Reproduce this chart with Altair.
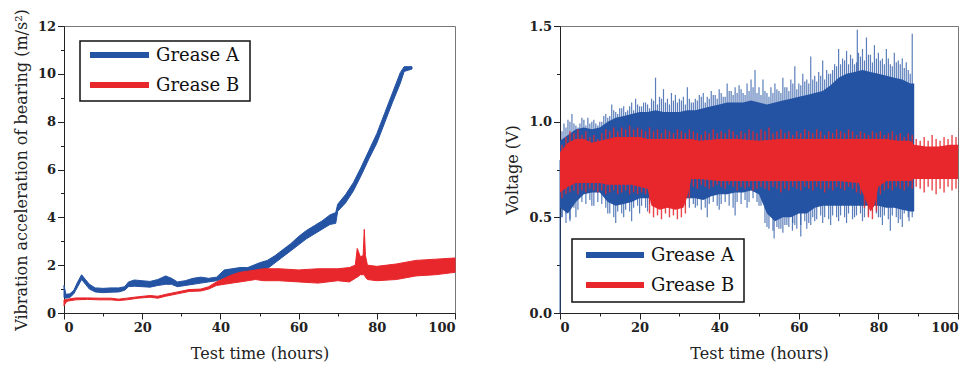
import altair as alt
import pandas as pd

BLUE = "#2453A3"
RED = "#E8272C"
FONT = "DejaVu Serif"
SERIES = ["Grease A", "Grease B"]

# ---------------- Left panel: vibration acceleration (band lo/hi) ----------------
a_t = [0, 0.5, 1.5, 2.5, 3.5, 4.5, 5.5, 6.5, 8, 10, 12, 14, 15.5, 16.5, 18, 20, 22, 24, 26, 27.5,
       29, 31, 33, 35, 37, 39, 41, 43, 45, 47, 50, 52, 54, 56, 58, 60, 62, 64, 66, 68,
       69.5, 70, 72, 74, 76, 78, 80, 82, 84, 86, 87, 89]
a_lo = [0.65, 0.62, 0.65, 0.8, 1.1, 1.4, 1.2, 1.0, 0.88, 0.85, 0.87, 0.88, 0.95, 1.1, 1.12, 1.1, 1.08, 1.15, 1.2, 1.2,
        1.1, 1.15, 1.2, 1.25, 1.3, 1.35, 1.45, 1.5, 1.55, 1.6, 1.75, 1.85, 2.1, 2.35, 2.6, 2.85, 3.1, 3.3, 3.5, 3.7,
        3.75, 4.25, 4.6, 5.1, 5.75, 6.45, 7.1, 7.95, 8.8, 9.6, 10.1, 10.2]
a_hi = [1.15, 0.78, 0.8, 0.95, 1.3, 1.6, 1.4, 1.2, 1.05, 1.03, 1.05, 1.05, 1.1, 1.3, 1.38, 1.35, 1.32, 1.4, 1.55, 1.45,
        1.3, 1.35, 1.45, 1.5, 1.45, 1.5, 1.8, 1.85, 1.9, 1.9, 2.1, 2.2, 2.4, 2.65, 2.9, 3.2, 3.45, 3.65, 3.85, 4.1,
        4.2, 4.55, 4.95, 5.45, 6.1, 6.8, 7.5, 8.35, 9.2, 10.05, 10.3, 10.3]

b_t = [0, 0.5, 1, 3, 6, 9, 12, 14, 16, 19, 22, 24, 26, 29, 32, 35, 37, 39, 41, 43,
       45, 47, 49, 51, 55, 60, 65, 70, 73, 74.5, 75, 75.8, 76.5, 76.8, 77.1, 77.6, 80, 85, 90, 95, 100]
b_lo = [0.3, 0.45, 0.5, 0.55, 0.57, 0.55, 0.55, 0.52, 0.55, 0.62, 0.66, 0.62, 0.7, 0.8, 0.9, 0.92, 1.0, 1.15, 1.2, 1.25,
        1.3, 1.35, 1.4, 1.35, 1.35, 1.3, 1.25, 1.35, 1.3, 1.45, 1.5, 1.6, 1.6, 1.6, 1.5, 1.4, 1.35, 1.4, 1.55, 1.6, 1.7]
b_hi = [0.55, 0.55, 0.58, 0.63, 0.63, 0.62, 0.62, 0.58, 0.62, 0.68, 0.73, 0.7, 0.78, 0.88, 0.98, 1.0, 1.1, 1.3, 1.45, 1.6,
        1.7, 1.75, 1.8, 1.85, 1.85, 1.8, 1.85, 1.85, 1.9, 2.0, 2.7, 2.35, 2.4, 3.5, 2.4, 2.0, 1.95, 2.05, 2.2, 2.25, 2.3]

# ---------------- Right panel: voltage (dense core band + spikes) ----------------
va_t = [0, 2, 4, 6, 8, 10, 12, 14, 16, 18, 20, 22, 24, 26, 28, 30, 32, 34, 36, 38,
        40, 42, 44, 46, 48, 50, 52, 54, 56, 58, 60, 62, 64, 66, 68, 70, 72, 74, 76, 78,
        80, 82, 84, 86, 88, 89]
va_lo = [0.55, 0.52, 0.58, 0.62, 0.63, 0.63, 0.58, 0.56, 0.57, 0.58, 0.60, 0.60, 0.60, 0.60, 0.60, 0.60, 0.60, 0.60, 0.59, 0.61,
         0.62, 0.62, 0.63, 0.63, 0.64, 0.62, 0.52, 0.48, 0.50, 0.50, 0.52, 0.52, 0.55, 0.56, 0.56, 0.56, 0.56, 0.56, 0.56, 0.56,
         0.56, 0.55, 0.55, 0.54, 0.53, 0.53]
va_hi = [0.90, 0.93, 0.96, 0.97, 0.96, 0.97, 1.00, 1.02, 1.03, 1.04, 1.05, 1.05, 1.06, 1.05, 1.05, 1.05, 1.06, 1.06, 1.07, 1.08,
         1.09, 1.10, 1.10, 1.10, 1.11, 1.10, 1.09, 1.10, 1.11, 1.12, 1.13, 1.14, 1.15, 1.16, 1.19, 1.23, 1.25, 1.26, 1.27, 1.26,
         1.25, 1.24, 1.23, 1.22, 1.20, 1.20]

vb_t = [0, 2, 4, 6, 8, 10, 12, 14, 16, 18, 20, 22, 23, 25, 27, 29, 31, 32, 33, 35,
        40, 45, 50, 55, 60, 65, 70, 75, 77, 78, 79, 80, 82, 85, 88, 89, 92, 95, 98, 100]
vb_lo = [0.63, 0.66, 0.68, 0.68, 0.68, 0.68, 0.67, 0.67, 0.67, 0.67, 0.66, 0.65, 0.56, 0.54, 0.55, 0.54, 0.55, 0.61, 0.70, 0.70,
         0.69, 0.69, 0.69, 0.69, 0.69, 0.69, 0.69, 0.68, 0.58, 0.53, 0.56, 0.66, 0.69, 0.69, 0.69, 0.70, 0.70, 0.70, 0.70, 0.70]
vb_hi = [0.84, 0.89, 0.91, 0.91, 0.89, 0.90, 0.91, 0.92, 0.92, 0.92, 0.92, 0.91, 0.91, 0.91, 0.91, 0.91, 0.91, 0.91, 0.91, 0.90,
         0.91, 0.91, 0.90, 0.91, 0.91, 0.91, 0.91, 0.91, 0.91, 0.91, 0.91, 0.91, 0.91, 0.90, 0.90, 0.88, 0.87, 0.87, 0.88, 0.88]

# isolated spikes of Grease A (hour, peak voltage)
sa_t = [1, 2, 3, 4, 5, 6, 7, 8, 9, 10, 11, 12, 13, 14, 15, 16, 17, 18, 19, 20,
        21, 22, 23, 24, 25, 26, 27, 28, 29, 30, 31, 32, 33, 34, 35, 36, 37, 38, 39, 40,
        41, 42, 43, 44, 45, 46, 47, 48, 49, 50, 51, 52, 53, 54, 55, 56, 57, 58, 59, 60,
        61, 62, 63, 64, 65, 66, 67, 68, 69, 70, 71, 72, 73, 74, 74.7, 75, 76, 77, 78, 79,
        80, 81, 82, 83, 84, 85, 86, 87, 88, 88.5,
        0, 0.5, 1.5, 2.5, 4, 8, 12, 14, 16, 18, 20, 22, 34, 37, 40, 44, 47, 50, 52, 53.8,
        55, 56, 57, 58.4, 59, 60.5, 62, 63, 64, 66, 68, 70, 72, 74, 76, 80, 81, 83, 85, 86,
        87.7, 88.5]
sa_v = [0.99, 1.01, 1.04, 0.98, 0.99, 1.01, 1.02, 1.00, 0.99, 1.00, 1.03, 1.02, 1.09, 1.05, 1.07, 1.08, 1.06, 1.10, 1.12, 1.08,
        1.10, 1.09, 1.12, 1.23, 1.13, 1.17, 1.12, 1.15, 1.14, 1.12, 1.13, 1.18, 1.10, 1.12, 1.14, 1.15, 1.13, 1.16, 1.14, 1.17,
        1.13, 1.20, 1.16, 1.18, 1.19, 1.15, 1.20, 1.22, 1.27, 1.18, 1.22, 1.15, 1.18, 1.20, 1.16, 1.23, 1.18, 1.22, 1.29, 1.20,
        1.25, 1.22, 1.34, 1.24, 1.26, 1.32, 1.27, 1.25, 1.30, 1.38, 1.33, 1.37, 1.35, 1.30, 1.48, 1.36, 1.38, 1.44, 1.35, 1.40,
        1.36, 1.33, 1.38, 1.30, 1.36, 1.32, 1.33, 1.31, 1.25, 1.46,
        0.00, 0.50, 0.47, 0.49, 0.50, 0.56, 0.52, 0.47, 0.50, 0.48, 0.52, 0.53, 0.55, 0.50, 0.54, 0.51, 0.55, 0.56, 0.45, 0.39,
        0.44, 0.42, 0.46, 0.43, 0.46, 0.40, 0.44, 0.46, 0.48, 0.47, 0.46, 0.48, 0.47, 0.50, 0.48, 0.50, 0.46, 0.43, 0.47, 0.45,
        0.48, 0.50]

# dense half-hour fringe of Grease A (upper and lower edge of the noise), hours 0.5 .. 87.5
fa_t = [h + 0.5 for h in range(88)]
fa_up = [0.95, 0.97, 1.00, 0.99, 0.97, 1.02, 0.98, 0.99, 1.01, 0.98,
         1.00, 1.04, 1.03, 1.06, 1.04, 1.07, 1.05, 1.08, 1.06, 1.09,
         1.08, 1.10, 1.07, 1.11, 1.09, 1.12, 1.10, 1.09, 1.11, 1.10,
         1.11, 1.09, 1.12, 1.10, 1.11, 1.13, 1.10, 1.12, 1.14, 1.12,
         1.15, 1.13, 1.16, 1.14, 1.15, 1.17, 1.14, 1.16, 1.18, 1.15,
         1.14, 1.16, 1.13, 1.15, 1.17, 1.15, 1.18, 1.16, 1.20, 1.17,
         1.19, 1.21, 1.20, 1.22, 1.21, 1.24, 1.22, 1.25, 1.27, 1.29,
         1.30, 1.32, 1.30, 1.33, 1.31, 1.34, 1.32, 1.35, 1.31, 1.33,
         1.32, 1.30, 1.33, 1.29, 1.31, 1.30, 1.28, 1.27]
fa_dn = [0.50, 0.52, 0.48, 0.55, 0.54, 0.58, 0.57, 0.59, 0.56, 0.58,
         0.57, 0.55, 0.52, 0.50, 0.53, 0.52, 0.54, 0.53, 0.55, 0.56,
         0.56, 0.55, 0.57, 0.56, 0.58, 0.57, 0.56, 0.58, 0.57, 0.56,
         0.57, 0.56, 0.55, 0.57, 0.56, 0.54, 0.55, 0.57, 0.58, 0.56,
         0.57, 0.58, 0.56, 0.55, 0.58, 0.57, 0.59, 0.58, 0.60, 0.58,
         0.56, 0.47, 0.44, 0.43, 0.45, 0.44, 0.46, 0.45, 0.47, 0.44,
         0.46, 0.48, 0.47, 0.50, 0.49, 0.51, 0.50, 0.49, 0.51, 0.50,
         0.51, 0.50, 0.52, 0.49, 0.51, 0.52, 0.50, 0.51, 0.53, 0.52,
         0.50, 0.51, 0.49, 0.51, 0.50, 0.49, 0.52, 0.50]

# dense hourly fringe of Grease B, hours 0.5 .. 99.5
fb_t = [h + 0.5 for h in range(100)]
fb_up = [0.88, 0.92, 0.95, 0.94, 0.96, 0.93, 0.95, 0.92, 0.93, 0.91,
         0.94, 0.96, 0.95, 0.97, 0.95, 0.97, 0.96, 0.98, 0.96, 0.97,
         0.96, 0.95, 0.97, 0.95, 0.96, 0.94, 0.96, 0.95, 0.94, 0.96,
         0.95, 0.94, 0.96, 0.95, 0.94, 0.93, 0.95, 0.94, 0.96, 0.94,
         0.95, 0.94, 0.96, 0.95, 0.93, 0.95, 0.94, 0.96, 0.95, 0.94,
         0.96, 0.95, 0.97, 0.94, 0.95, 0.96, 0.94, 0.95, 0.93, 0.95,
         0.94, 0.96, 0.95, 0.94, 0.96, 0.95, 0.93, 0.95, 0.94, 0.96,
         0.95, 0.94, 0.96, 0.95, 0.93, 0.95, 0.94, 0.93, 0.95, 0.94,
         0.95, 0.93, 0.94, 0.95, 0.93, 0.94, 0.92, 0.94, 0.93, 0.91,
         0.90, 0.92, 0.90, 0.93, 0.91, 0.90, 0.92, 0.91, 0.93, 0.92]
fb_dn = [0.60, 0.62, 0.63, 0.64, 0.62, 0.64, 0.63, 0.65, 0.64, 0.63,
         0.64, 0.62, 0.63, 0.64, 0.62, 0.63, 0.64, 0.62, 0.63, 0.62,
         0.63, 0.62, 0.52, 0.50, 0.51, 0.49, 0.52, 0.50, 0.51, 0.49,
         0.50, 0.52, 0.60, 0.66, 0.65, 0.67, 0.66, 0.65, 0.66, 0.67,
         0.66, 0.65, 0.67, 0.66, 0.64, 0.66, 0.65, 0.66, 0.64, 0.65,
         0.66, 0.65, 0.64, 0.66, 0.65, 0.63, 0.65, 0.64, 0.66, 0.65,
         0.64, 0.66, 0.65, 0.64, 0.66, 0.65, 0.63, 0.65, 0.64, 0.66,
         0.65, 0.64, 0.66, 0.65, 0.63, 0.62, 0.55, 0.50, 0.49, 0.53,
         0.62, 0.64, 0.65, 0.64, 0.66, 0.65, 0.64, 0.66, 0.65, 0.66,
         0.65, 0.63, 0.66, 0.64, 0.62, 0.65, 0.63, 0.66, 0.64, 0.65]

x_ticks = list(range(0, 101, 10))
left_y_ticks = list(range(0, 13))
right_y_ticks = [0, 0.25, 0.5, 0.75, 1.0, 1.25, 1.5]

# ---------------- data frames ----------------
df_left = pd.concat([
    pd.DataFrame({"t": a_t, "lo": a_lo, "hi": a_hi, "series": SERIES[0]}),
    pd.DataFrame({"t": b_t, "lo": b_lo, "hi": b_hi, "series": SERIES[1]}),
])
df_va = pd.DataFrame({"t": va_t, "lo": va_lo, "hi": va_hi, "series": SERIES[0]})
df_vb = pd.DataFrame({"t": vb_t, "lo": vb_lo, "hi": vb_hi, "series": SERIES[1]})
df_sa = pd.concat([
    pd.DataFrame({"t": sa_t, "v": sa_v}),
    pd.DataFrame({"t": fa_t, "v": fa_up}),
    pd.DataFrame({"t": fa_t, "v": fa_dn}),
])
df_sb = pd.concat([
    pd.DataFrame({"t": fb_t, "v": fb_up}),
    pd.DataFrame({"t": fb_t, "v": fb_dn}),
])
df_leg = pd.DataFrame({"series": SERIES})

color_scale = alt.Scale(domain=SERIES, range=[BLUE, RED])


def x_enc():
    return alt.X(
        "t:Q",
        scale=alt.Scale(domain=[0, 100], nice=False),
        axis=alt.Axis(
            values=x_ticks,
            labelExpr="datum.value % 20 === 0 ? datum.label : ''",
            tickSize={"condition": {"test": "datum.value % 20 !== 0", "value": 3}, "value": 6},
            title="Test time (hours)",
            titlePadding=11,
        ),
    )


def left_y(field):
    return alt.Y(
        field,
        scale=alt.Scale(domain=[0, 12], nice=False),
        axis=alt.Axis(
            values=left_y_ticks,
            labelExpr="datum.value % 2 === 0 ? datum.label : ''",
            tickSize={"condition": {"test": "datum.value % 2 === 1", "value": 3.5}, "value": 6.5},
            title="Vibration acceleration of bearing (m/s²)",
            titlePadding=8,
        ),
    )


def right_y(field):
    return alt.Y(
        field,
        scale=alt.Scale(domain=[0, 1.5], nice=False),
        axis=alt.Axis(
            values=right_y_ticks,
            format=".1f",
            labelExpr="round(datum.value * 4) % 2 === 0 ? datum.label : ''",
            tickSize={"condition": {"test": "round(datum.value * 4) % 2 === 1", "value": 3.5}, "value": 6.5},
            title="Voltage (V)",
            titlePadding=8,
        ),
    )


def legend_layers(bx, by, bw, bh, lx0, lx1, tx, ys):
    """Boxed legend drawn inside the plot (pixel placement, text from SERIES)."""
    box = alt.Chart(df_leg.head(1)).mark_rect(fill="white", stroke="#111", strokeWidth=1.5).encode(
        x=alt.value(bx), x2=alt.value(bx + bw), y=alt.value(by), y2=alt.value(by + bh)
    )
    layers = [box]
    for name, col, yy in zip(SERIES, [BLUE, RED], ys):
        sub = df_leg[df_leg["series"] == name]
        layers.append(
            alt.Chart(sub).mark_rule(strokeWidth=6, color=col).encode(
                x=alt.value(lx0), x2=alt.value(lx1), y=alt.value(yy)
            )
        )
        layers.append(
            alt.Chart(sub).mark_text(align="left", baseline="middle", font=FONT, fontSize=18, color="#111").encode(
                x=alt.value(tx), y=alt.value(yy + 1), text="series:N"
            )
        )
    return layers


left_band = alt.Chart(df_left).mark_area(strokeWidth=1, interpolate="linear").encode(
    x=x_enc(),
    y=left_y("lo:Q"),
    y2="hi:Q",
    fill=alt.Fill("series:N", scale=color_scale, legend=None),
    stroke=alt.Stroke("series:N", scale=color_scale, legend=None),
)
left = alt.layer(
    left_band, *legend_layers(16, 15, 170, 60, 26, 85, 92, [29, 59])
).properties(width=391, height=287)

spikes_a = alt.Chart(df_sa).mark_rule(strokeWidth=1.2, color=BLUE, opacity=0.75).encode(
    x=x_enc(), y=right_y("v:Q"), y2=alt.datum(0.8)
)
core_a = alt.Chart(df_va).mark_area(strokeWidth=1, color=BLUE).encode(
    x=x_enc(), y=right_y("lo:Q"), y2="hi:Q"
)
spikes_b = alt.Chart(df_sb).mark_rule(strokeWidth=1.4, color=RED, opacity=0.85).encode(
    x=x_enc(), y=right_y("v:Q"), y2=alt.datum(0.8)
)
core_b = alt.Chart(df_vb).mark_area(strokeWidth=1, color=RED).encode(
    x=x_enc(), y=right_y("lo:Q"), y2="hi:Q"
)

right = alt.layer(
    spikes_a, core_a, spikes_b, core_b,
    *legend_layers(12, 213, 172, 63, 26, 84, 91, [229, 259])
).properties(width=398, height=287)

chart = (
    alt.hconcat(left, right, spacing=46)
    .resolve_scale(x="independent", y="independent", fill="independent", stroke="independent")
    .properties(padding={"left": 4, "top": 0, "right": 0, "bottom": 0})
    .configure_axis(
        labelFont=FONT,
        labelFontSize=13,
        labelFontWeight="bold",
        labelColor="#222",
        labelPadding=2,
        titleFont=FONT,
        titleFontSize=16,
        titleFontWeight="normal",
        titleColor="#222",
        domainColor="#222",
        tickColor="#222",
        grid=False,
    )
    .configure_view(stroke="#777", strokeWidth=1)
)

chart.save("out.html", embed_options={"renderer": "svg", "actions": False})
